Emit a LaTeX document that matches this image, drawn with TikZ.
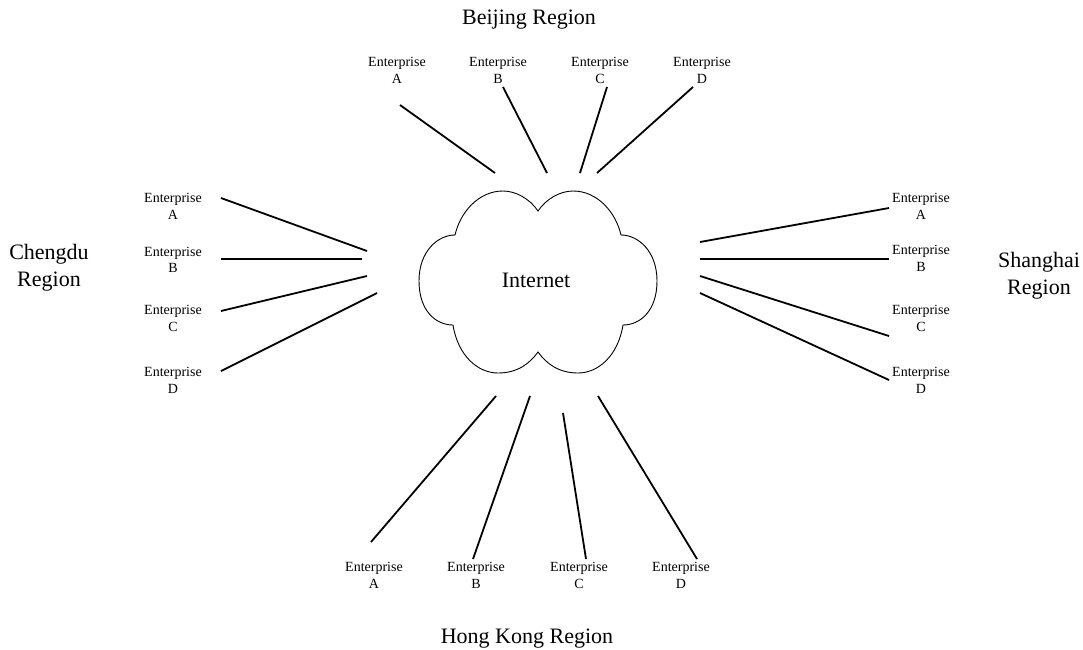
\documentclass[tikz,border=0pt]{standalone}
\usepackage{fontspec}
\setmainfont{Liberation Serif}
\begin{document}
\begin{tikzpicture}[x=1pt,y=-1pt,
  link/.style={line width=1.8pt},
  cloudline/.style={line width=0.9pt},
  ent/.style={align=center,inner sep=0pt,font=\fontsize{14}{16.5}\selectfont},
  region/.style={align=center,inner sep=0pt,font=\fontsize{22}{27}\selectfont}]
\useasboundingbox (0,0) rectangle (1083,649);
% cloud
\draw[cloudline] (538,211)
  .. controls (530,199) and (516,191) .. (503,191)
  .. controls (478,191) and (460,213) .. (455,235)
  .. controls (438,235) and (419,251) .. (419,281)
  .. controls (419,311) and (436,325) .. (453,325)
  .. controls (458,356) and (478,373) .. (498,373)
  .. controls (518,373) and (530,363) .. (538,352)
  .. controls (546,363) and (558,373) .. (578,373)
  .. controls (598,373) and (618,356) .. (623,325)
  .. controls (640,325) and (657,311) .. (657,281)
  .. controls (657,251) and (638,235) .. (621,235)
  .. controls (616,213) and (598,191) .. (573,191)
  .. controls (560,191) and (546,199) .. (538,211) -- cycle;
\node[anchor=base,inner sep=0pt,font=\fontsize{22}{27}\selectfont] (internet) at (536,287) {Internet};
% region titles
\node[region,anchor=base] (beijing) at (529,24) {Beijing Region};
\node[region,anchor=base] (hongkong) at (527,643) {Hong Kong Region};
\node[region] (chengdu) at (49,268) {Chengdu\\Region};
\node[region] (shanghai) at (1039,276) {Shanghai\\Region};
% Beijing enterprises
\node[ent] (bA) at (397,70.5) {Enterprise\\A};
\node[ent] (bB) at (498,70.5) {Enterprise\\B};
\node[ent] (bC) at (600,70.5) {Enterprise\\C};
\node[ent] (bD) at (702,70.5) {Enterprise\\D};
% Chengdu enterprises
\node[ent] (cA) at (173,206.5) {Enterprise\\A};
\node[ent] (cB) at (173,260) {Enterprise\\B};
\node[ent] (cC) at (173,318.5) {Enterprise\\C};
\node[ent] (cD) at (173,380.5) {Enterprise\\D};
% Shanghai enterprises
\node[ent] (sA) at (921,206.5) {Enterprise\\A};
\node[ent] (sB) at (921,258.5) {Enterprise\\B};
\node[ent] (sC) at (921,318.5) {Enterprise\\C};
\node[ent] (sD) at (921,380.5) {Enterprise\\D};
% Hong Kong enterprises
\node[ent] (hA) at (374,575.5) {Enterprise\\A};
\node[ent] (hB) at (476,575.5) {Enterprise\\B};
\node[ent] (hC) at (579,575.5) {Enterprise\\C};
\node[ent] (hD) at (681,575.5) {Enterprise\\D};
% connector end points
\coordinate (bAo) at (400,105); \coordinate (bAi) at (495,173);
\coordinate (bBo) at (503,87);  \coordinate (bBi) at (547,173);
\coordinate (bCo) at (607,87);  \coordinate (bCi) at (580,173);
\coordinate (bDo) at (693,87);  \coordinate (bDi) at (597,173);
\coordinate (cAo) at (221,198); \coordinate (cAi) at (367,251);
\coordinate (cBo) at (221,259); \coordinate (cBi) at (362,259);
\coordinate (cCo) at (221,311); \coordinate (cCi) at (367,276);
\coordinate (cDo) at (221,371); \coordinate (cDi) at (377,293);
\coordinate (sAo) at (889,208); \coordinate (sAi) at (700,242);
\coordinate (sBo) at (889,259); \coordinate (sBi) at (700,259);
\coordinate (sCo) at (889,336); \coordinate (sCi) at (700,276);
\coordinate (sDo) at (889,380); \coordinate (sDi) at (700,293);
\coordinate (hAo) at (371,542); \coordinate (hAi) at (496,396);
\coordinate (hBo) at (473,559); \coordinate (hBi) at (530,396);
\coordinate (hCo) at (586,559); \coordinate (hCi) at (563,413);
\coordinate (hDo) at (697,559); \coordinate (hDi) at (598,396);
% connectors
\foreach \r in {b,c,s,h}{
  \foreach \e in {A,B,C,D}{
    \draw[link] (\r\e o) -- (\r\e i);
  }
}
\end{tikzpicture}
\end{document}
